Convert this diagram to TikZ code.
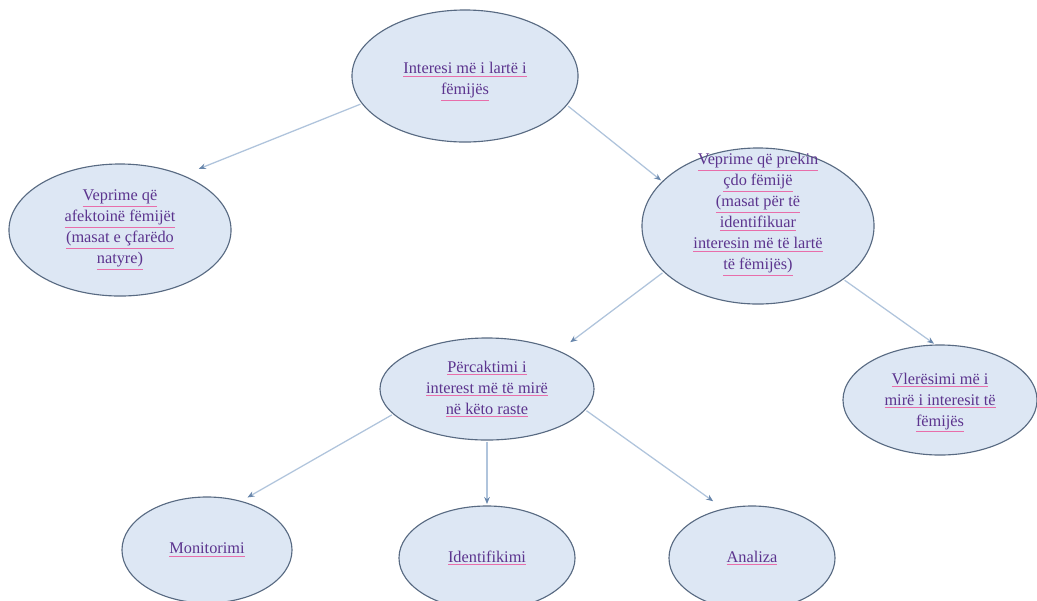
\documentclass[tikz,border=0pt]{standalone}
\usepackage{fontspec}
\setmainfont{Liberation Serif}
\usepackage{xcolor}
\usetikzlibrary{shapes.geometric, arrows.meta}

\definecolor{bubblefill}{RGB}{221,231,244}
\definecolor{bubbleline}{RGB}{88,106,130}
\definecolor{linkline}{RGB}{176,196,220}
\definecolor{linktip}{RGB}{105,135,172}
\definecolor{wordcol}{RGB}{92,52,142}
\definecolor{wavecol}{RGB}{232,110,170}

% underlined word line
\newcommand{\wl}[1]{{\color{wavecol}\underline{\color{wordcol}#1}}}

\begin{document}
\begin{tikzpicture}[x=0.025cm, y=-0.025cm,
    bubble/.style={ellipse, draw=bubbleline, line width=0.8pt, fill=bubblefill, inner sep=0pt},
    txt/.style={align=center, font=\fontsize{11.6}{14.9}\selectfont, text=wordcol},
    link/.style={draw=linkline, line width=0.9pt, -{Stealth[length=5pt, width=4pt, color=linktip]}, shorten <=1pt}]
    \useasboundingbox (0,0) rectangle (1037,600);

    % Draw the ellipses
    \node[bubble, minimum width=5.65cm, minimum height=3.3cm,
          label={[txt, yshift=-4pt]center:{\wl{Interesi më i lartë i}\\\wl{fëmijës}}}] (interesi) at (465,76) {};
    \node[bubble, minimum width=5.55cm, minimum height=3.3cm,
          label={[txt]center:{\wl{Veprime që}\\\wl{afektoinë fëmijët}\\\wl{(masat e çfarëdo}\\\wl{natyre)}}}] (afekt) at (120,230) {};
    \node[bubble, minimum width=5.8cm, minimum height=3.9cm,
          label={[txt, yshift=8pt]center:{\wl{Veprime që prekin}\\\wl{çdo fëmijë}\\\wl{(masat për të}\\\wl{identifikuar}\\\wl{interesin më të lartë}\\\wl{të fëmijës)}}}] (prekin) at (758,226) {};
    \node[bubble, minimum width=5.35cm, minimum height=2.55cm,
          label={[txt]center:{\wl{Përcaktimi i}\\\wl{interest më të mirë}\\\wl{në këto raste}}}] (percakt) at (487,389) {};
    \node[bubble, minimum width=4.85cm, minimum height=2.75cm,
          label={[txt, yshift=-2pt]center:{\wl{Vlerësimi më i}\\\wl{mirë i interesit të}\\\wl{fëmijës}}}] (vleresimi) at (940,400) {};
    \node[bubble, minimum width=4.25cm, minimum height=2.65cm,
          label={[txt]center:{\wl{Monitorimi}}}] (monit) at (207,550) {};
    \node[bubble, minimum width=4.4cm, minimum height=2.6cm,
          label={[txt]center:{\wl{Identifikimi}}}] (ident) at (487,558) {};
    \node[bubble, minimum width=4.15cm, minimum height=2.6cm,
          label={[txt]center:{\wl{Analiza}}}] (analiza) at (752,558) {};

    % Draw the arrows
    \draw[link, shorten >=12pt] (interesi.195) -- (afekt.41);
    \draw[link, shorten >=1pt] (interesi.-16) -- (prekin.155);
    \draw[link, shorten >=10pt] (prekin.206) -- (percakt.28);
    \draw[link, shorten >=1pt] (prekin.-32) -- (vleresimi.95);
    \draw[link, shorten >=5pt] (percakt.195) -- (monit.55);
    \draw[link, shorten >=1pt] (percakt.south) -- (ident.north);
    \draw[link, shorten >=9pt] (percakt.-12) -- (analiza.120);
\end{tikzpicture}
\end{document}
